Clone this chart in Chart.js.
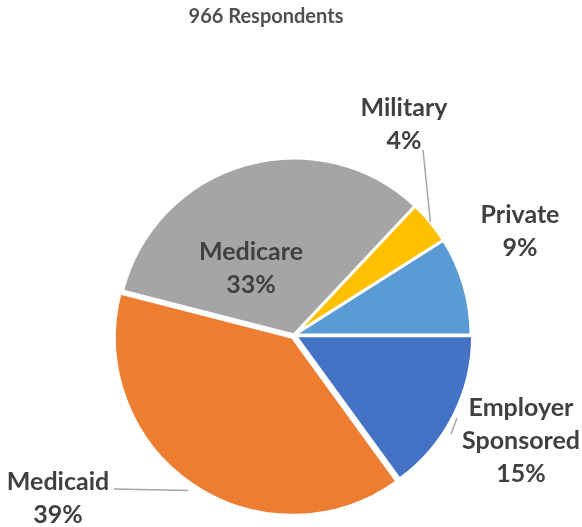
<!DOCTYPE html>
<html>
<head>
<meta charset="utf-8">
<script src="https://cdn.jsdelivr.net/npm/chart.js@4"></script>
<style>
  html, body { margin: 0; padding: 0; background: #fff; }
  #wrap { width: 582px; height: 527px; }
</style>
</head>
<body>
<div id="wrap"><canvas id="myChart"></canvas></div>
<script>
// Insurance type of respondents, share in percent
var categories = ["Employer Sponsored", "Medicaid", "Medicare", "Military", "Private"];
var shares = [15, 39, 33, 4, 9];
var sliceColors = ["#4472C4", "#ED7D31", "#A5A5A5", "#FFC000", "#5B9BD5"];
var titleText = "966 Respondents";

// where each label's first line sits, and the outer end of its leader line (if any)
var labelLayout = [
  { lines: ["Employer", "Sponsored"], x: 521, y: 408, leader: [451, 434] },
  { lines: ["Medicaid"], x: 58, y: 482, leader: [114, 489] },
  { lines: ["Medicare"], x: 251, y: 252 },
  { lines: ["Military"], x: 404, y: 108, leader: [423, 150] },
  { lines: ["Private"], x: 520, y: 215 }
];
var labelFont = "bold 25px Lato";
var lineGap = 33;

var pieLabels = {
  id: 'pieLabels',
  afterDraw: function(chart) {
    var ctx = chart.ctx;
    var arcs = chart.getDatasetMeta(0).data;
    ctx.save();

    // title
    ctx.font = "bold 20px Lato";
    ctx.fillStyle = "#505050";
    ctx.textAlign = "center";
    ctx.textBaseline = "middle";
    ctx.fillText(titleText, 266, 17);

    labelLayout.forEach(function(lab, i) {
      var arc = arcs[i];
      var mid = (arc.startAngle + arc.endAngle) / 2;
      // leader line from the label to the middle of the slice's rim
      if (lab.leader) {
        var off = arc.options.offset || 0;
        var cx = arc.x + Math.cos(mid) * off;
        var cy = arc.y + Math.sin(mid) * off;
        ctx.beginPath();
        ctx.moveTo(lab.leader[0], lab.leader[1]);
        ctx.lineTo(cx + Math.cos(mid) * arc.outerRadius, cy + Math.sin(mid) * arc.outerRadius);
        ctx.strokeStyle = "#A6A6A6";
        ctx.lineWidth = 1.5;
        ctx.stroke();
      }
      ctx.font = labelFont;
      ctx.fillStyle = "#404040";
      var texts = lab.lines.concat([shares[i] + "%"]);
      texts.forEach(function(t, k) {
        ctx.fillText(t, lab.x, lab.y + k * lineGap);
      });
    });
    ctx.restore();
  }
};

var ctx = document.getElementById("myChart");
var myChart = new Chart(ctx, {
  type: 'pie',
  data: {
    labels: categories,
    datasets: [
      {
        data: shares,
        backgroundColor: sliceColors,
        borderColor: "#ffffff",
        borderWidth: 3,
        offset: [6, 11, 0, 0, 0]
      }
    ]
  },
  options: {
    responsive: true,
    maintainAspectRatio: false,
    animation: false,
    rotation: 90,
    layout: { padding: { top: 151, bottom: 8, left: 6, right: 0 } },
    plugins: {
      legend: { display: false },
      tooltip: { enabled: false }
    }
  },
  plugins: [pieLabels]
});
</script>
</body>
</html>
